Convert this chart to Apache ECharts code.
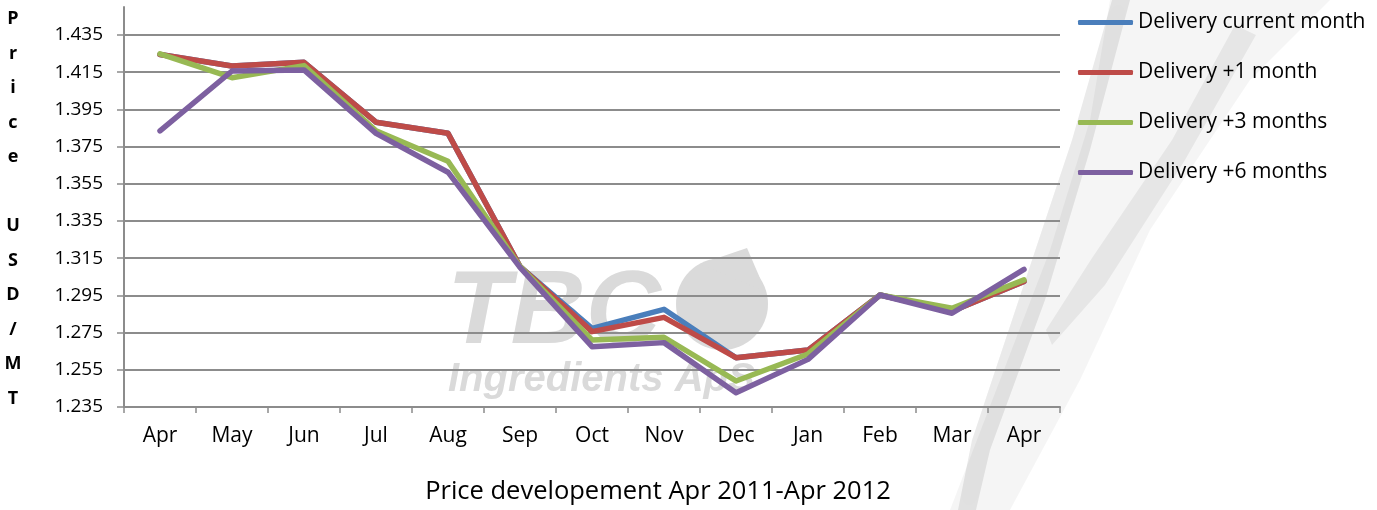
<!DOCTYPE html>
<html>
<head>
<meta charset="utf-8">
<script src="https://cdn.jsdelivr.net/npm/echarts@6/dist/echarts.min.js"></script>
<style>
  html, body { margin: 0; padding: 0; background: #fff; }
  #chart { width: 1377px; height: 510px; }
</style>
</head>
<body>
<div id="chart"></div>
<script>
// months on the x axis
var months = ['Apr', 'May', 'Jun', 'Jul', 'Aug', 'Sep', 'Oct', 'Nov', 'Dec', 'Jan', 'Feb', 'Mar', 'Apr'];
// prices USD/MT (thousands)
var deliveryCurrent = [1.4245, 1.4183, 1.4203, 1.3881, 1.3821, 1.3105, 1.2773, 1.2875, 1.2615, 1.2656, 1.2952, 1.2865, 1.3025];
var deliveryPlus1   = [1.4245, 1.4183, 1.4203, 1.3881, 1.3821, 1.3105, 1.2755, 1.2832, 1.2615, 1.2656, 1.2952, 1.2865, 1.3025];
var deliveryPlus3   = [1.4248, 1.4120, 1.4185, 1.3835, 1.3671, 1.3105, 1.2710, 1.2725, 1.2490, 1.2635, 1.2952, 1.2881, 1.3033];
var deliveryPlus6   = [1.3834, 1.4156, 1.4162, 1.3821, 1.3612, 1.3100, 1.2674, 1.2696, 1.2427, 1.2606, 1.2952, 1.2854, 1.3090];
var seriesNames = ['Delivery current month', 'Delivery +1 month', 'Delivery +3 months', 'Delivery +6 months'];
var colors = ['#4A7EBB', '#BE4B48', '#98B954', '#7D60A0'];

var chart = echarts.init(document.getElementById('chart'));
var font = 'Open Sans';

function line(name, data, color) {
  return {
    name: name,
    type: 'line',
    data: data,
    showSymbol: false,
    symbol: 'none',
    color: color,
    lineStyle: { width: 5.5, color: color, join: 'round', cap: 'round' },
    z: 3
  };
}

// soft grey streak of the background picture
function streak(points, alpha) {
  return { type: 'polygon', z: -20, shape: { points: points },
    style: { fill: 'rgba(0,0,0,' + alpha + ')', shadowBlur: 18, shadowColor: 'rgba(0,0,0,' + alpha + ')' } };
}

var option = {
  animation: false,
  backgroundColor: '#fff',
  color: colors,
  grid: { left: 124, right: 317, top: 7, bottom: 103 },
  legend: {
    orient: 'vertical',
    left: 1078,
    top: 12,
    padding: 0,
    icon: 'roundRect',
    itemWidth: 55,
    itemHeight: 5,
    itemGap: 29,
    textStyle: { fontFamily: font, fontSize: 21, color: '#000' },
    data: seriesNames
  },
  xAxis: {
    type: 'category',
    data: months,
    boundaryGap: true,
    axisLine: { lineStyle: { color: '#8c8c8c', width: 2 } },
    axisTick: { show: true, length: 6, lineStyle: { color: '#8c8c8c', width: 1.5 } },
    axisLabel: { fontFamily: font, fontSize: 21, color: '#000', margin: 19 }
  },
  yAxis: {
    type: 'value',
    min: 1.235,
    max: 1.45,
    interval: 0.02,
    axisLine: { show: true, lineStyle: { color: '#8c8c8c', width: 2 } },
    axisTick: { show: true, length: 7, lineStyle: { color: '#8c8c8c', width: 1.5 } },
    axisLabel: {
      fontFamily: font, fontSize: 19, color: '#000', margin: 21,
      showMaxLabel: false,
      formatter: function (v) { return v.toFixed(3); }
    },
    splitLine: { show: true, showMaxLine: false, lineStyle: { color: '#8c8c8c', width: 2 } }
  },
  graphic: [
    // background swoosh
    streak([[1110, 0], [1330, 0], [1250, 80], [1150, 230], [1080, 380], [1010, 510], [950, 510], [1000, 380], [1050, 250], [1090, 120]], 0.04),
    streak([[1112, 0], [1130, 0], [1090, 150], [1045, 300], [990, 450], [976, 510], [958, 510], [972, 440], [1022, 290], [1072, 140]], 0.08),
    streak([[1235, 25], [1256, 35], [1185, 160], [1105, 285], [1052, 345], [1046, 330], [1092, 258], [1172, 140]], 0.06),
    // watermark
    { type: 'text', z: -10, x: 447, y: 314,
      style: { text: 'TBC', font: 'italic bold 104px "Liberation Sans"', fill: '#dadada', verticalAlign: 'middle' } },
    { type: 'circle', z: -11, shape: { cx: 722, cy: 304, r: 46 }, style: { fill: '#dadada' } },
    { type: 'polygon', z: -11, shape: { points: [[747, 248], [766, 292], [700, 264]] }, style: { fill: '#dadada' } },
    { type: 'text', z: -10, x: 448, y: 380,
      style: { text: 'Ingredients ApS', font: 'italic bold 40px "Liberation Sans"', fill: '#dadada', verticalAlign: 'middle' } },
    // y axis name, one letter per line
    { type: 'text', x: 13, y: 2,
      style: { text: 'P\nr\ni\nc\ne\n\nU\nS\nD\n/\nM\nT', font: 'bold 18px "Open Sans"', fill: '#000',
               lineHeight: 34.5, align: 'center', verticalAlign: 'top' } },
    // x axis title
    { type: 'text', x: 658, y: 492,
      style: { text: 'Price developement Apr 2011-Apr 2012', font: '25.5px "Open Sans"', fill: '#000',
               align: 'center', verticalAlign: 'middle' } }
  ],
  series: [
    line(seriesNames[0], deliveryCurrent, colors[0]),
    line(seriesNames[1], deliveryPlus1, colors[1]),
    line(seriesNames[2], deliveryPlus3, colors[2]),
    line(seriesNames[3], deliveryPlus6, colors[3])
  ]
};

chart.setOption(option);
</script>
</body>
</html>
